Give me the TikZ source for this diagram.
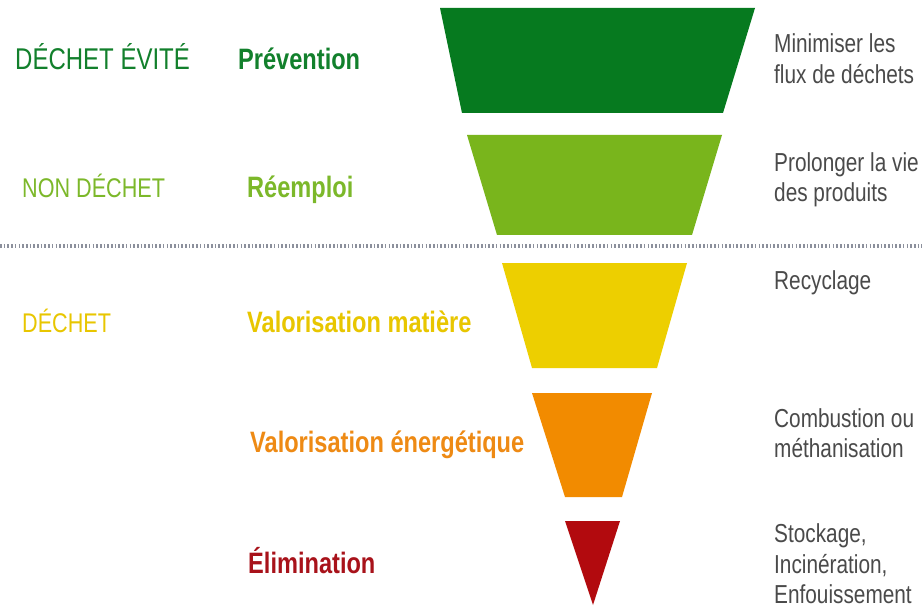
\documentclass[tikz,border=0pt]{standalone}
\usepackage{fontspec}
\setmainfont{Liberation Sans}[FakeStretch=0.8]
\definecolor{cDark}{HTML}{067A1F}
\definecolor{cLight}{HTML}{79B51C}
\definecolor{cYellow}{HTML}{EDCF00}
\definecolor{cOrange}{HTML}{F28B00}
\definecolor{cRed}{HTML}{B20A0E}
\definecolor{tDark}{HTML}{12802C}
\definecolor{tLight}{HTML}{7CB82A}
\definecolor{tYellow}{HTML}{E8C600}
\definecolor{tOrange}{HTML}{EE8A14}
\definecolor{tRed}{HTML}{A8121A}
\definecolor{tGray}{HTML}{4A4A4A}
\definecolor{dotGray}{HTML}{8C909C}
\tikzset{
  lefttxt/.style={anchor=base west, inner sep=0pt, font=\fontsize{27}{30}\selectfont},
  midtxt/.style={anchor=base west, inner sep=0pt, font=\fontsize{29.5}{32}\selectfont\bfseries},
  righttxt/.style={anchor=base west, inner sep=0pt, text=tGray, font=\fontsize{26}{31}\selectfont},
}
\begin{document}
\begin{tikzpicture}[x=1pt,y=-1pt]
\useasboundingbox (0,0) rectangle (922,607);
\fill[white] (0,0) rectangle (922,607);
% funnel
\fill[cDark]   (440,8) -- (755,8) -- (723,113) -- (462,113) -- cycle;
\fill[cLight]  (467,135) -- (722,135) -- (692,235) -- (497,235) -- cycle;
\fill[cYellow] (502,263) -- (687,263) -- (657,368) -- (532,368) -- cycle;
\fill[cOrange] (532,393) -- (652,393) -- (622,497) -- (565,497) -- cycle;
\fill[cRed]    (565,521) -- (620,521) -- (593,605) -- cycle;
% dotted separator
\coordinate (dl) at (0,246);
\coordinate (dr) at (922,246);
\draw[dotGray, line width=3.5pt, dash pattern=on 1.6pt off 2.1pt] (dl) -- (dr);
% left column
\node[lefttxt, text=tDark, font=\fontsize{30}{33}\selectfont] (evite) at (15,70)  {DÉCHET ÉVITÉ};
\node[lefttxt, text=tLight]  (nond)  at (22,197) {NON DÉCHET};
\node[lefttxt, text=tYellow] (dech)  at (22,332) {DÉCHET};
% middle column
\node[midtxt, text=tDark]   (prev) at (238,70)  {Prévention};
\node[midtxt, text=tLight]  (reem) at (247,197) {Réemploi};
\node[midtxt, text=tYellow] (vmat) at (247,332) {Valorisation matière};
\node[midtxt, text=tOrange] (vene) at (250,452) {Valorisation énergétique};
\node[midtxt, text=tRed]    (elim) at (248,573) {Élimination};
% right column
\node[righttxt] (r1a) at (774,53)  {Minimiser les};
\node[righttxt] (r1b) at (774,84)  {flux de déchets};
\node[righttxt] (r2a) at (774,172) {Prolonger la vie};
\node[righttxt] (r2b) at (774,202) {des produits};
\node[righttxt] (r3)  at (774,290) {Recyclage};
\node[righttxt] (r4a) at (774,427) {Combustion ou};
\node[righttxt] (r4b) at (774,457) {méthanisation};
\node[righttxt] (r5a) at (774,542) {Stockage,};
\node[righttxt] (r5b) at (774,573) {Incinération,};
\node[righttxt] (r5c) at (774,603) {Enfouissement};
\end{tikzpicture}
\end{document}
